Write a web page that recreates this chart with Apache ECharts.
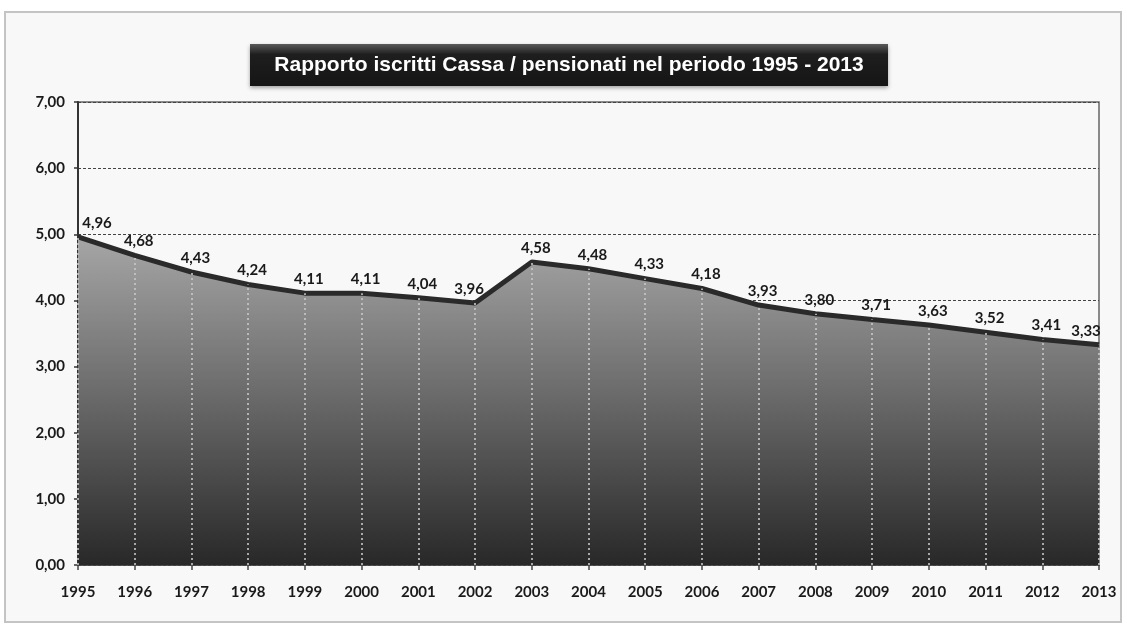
<!DOCTYPE html>
<html>
<head>
<meta charset="utf-8">
<script src="https://cdn.jsdelivr.net/npm/echarts@6/dist/echarts.min.js"></script>
<style>
html,body{margin:0;padding:0;background:#ffffff;}
#main{width:1127px;height:631px;}
</style>
</head>
<body>
<div id="main"></div>
<script>
var titleText = 'Rapporto iscritti Cassa / pensionati nel periodo 1995 - 2013';
var categories = ['1995','1996','1997','1998','1999','2000','2001','2002','2003','2004','2005','2006','2007','2008','2009','2010','2011','2012','2013'];
var ratios = [4.96,4.68,4.43,4.24,4.11,4.11,4.04,3.96,4.58,4.48,4.33,4.18,3.93,3.80,3.71,3.63,3.52,3.41,3.33];
var yTicks = [0,1,2,3,4,5,6,7];

function fmt(v){ return Number(v).toFixed(2).replace('.', ','); }

var chart = echarts.init(document.getElementById('main'), null, {renderer:'canvas'});
var lastIdx = ratios.length - 1;
var seriesData = ratios.map(function(v, i){
  var item = {value: v};
  var dx = 4;
  if (i === 0) dx = 19;
  else if (i === lastIdx) dx = -13;
  else if (i < lastIdx && ratios[i + 1] > v + 0.2) dx = -6;
  item.label = {offset:[dx, 0]};
  return item;
});
var dropLines = ratios.map(function(v, i){
  return [{coord:[categories[i], 0]}, {coord:[categories[i], v]}];
});

var font = "Lato, 'Liberation Sans', sans-serif";
chart.setOption({
  backgroundColor: '#ffffff',
  animation: false,
  graphic: [
    {type:'rect', z:-10, shape:{x:5, y:12, width:1116, height:610},
     style:{fill:'#f8f8f8', stroke:'#c4c4c4', lineWidth:2}},
    {type:'rect', z:10, shape:{x:250, y:44, width:638, height:42},
     style:{fill:new echarts.graphic.LinearGradient(0,0,0,1,[
        {offset:0,color:'#5a5a5a'},{offset:0.25,color:'#1e1e1e'},{offset:1,color:'#151515'}]),
        shadowBlur:4, shadowColor:'rgba(0,0,0,0.35)', shadowOffsetY:2}},
    {type:'text', z:11, x:569, y:65,
     style:{text:titleText, fill:'#ffffff', font:"bold 21px 'Liberation Sans Narrow', 'Liberation Sans', Arial, sans-serif",
        textAlign:'center', textVerticalAlign:'middle'}}
  ],
  grid: {left:78, right:28, top:102, bottom:66, show:true, borderColor:'#666666', borderWidth:1.5, backgroundColor:'transparent'},
  xAxis: {
    type:'category', data:categories, boundaryGap:false,
    axisLine:{show:true, lineStyle:{color:'#444', width:1.5}},
    axisTick:{show:true, alignWithLabel:true, length:5, lineStyle:{color:'#444', width:1.5}},
    axisLabel:{color:'#1a1a1a', fontFamily:font, fontWeight:'bold', fontSize:15, margin:20},
    splitLine:{show:false}
  },
  yAxis: {
    type:'value', min:yTicks[0], max:yTicks[yTicks.length-1], interval:1,
    axisLine:{show:true, lineStyle:{color:'#333', width:2}},
    axisTick:{show:true, length:4, lineStyle:{color:'#333', width:1.5}},
    axisLabel:{color:'#1a1a1a', fontFamily:font, fontWeight:'bold', fontSize:15, margin:13, formatter:function(v){return fmt(v);}},
    splitLine:{show:true, lineStyle:{color:'#444', width:1, type:[3,2]}}
  },
  series: [{
    type:'line', data:seriesData, symbol:'circle', symbolSize:1, showSymbol:true,
    itemStyle:{color:'rgba(0,0,0,0)'},
    lineStyle:{color:'#2a2a2a', width:5},
    areaStyle:{opacity:1, color:new echarts.graphic.LinearGradient(0,0,0,1,[
      {offset:0,color:'#a6a6a6'},{offset:0.5,color:'#686868'},{offset:1,color:'#282828'}])},
    label:{show:true, position:'top', distance:6, color:'#1a1a1a', fontFamily:font, fontWeight:'bold', fontSize:15,
      formatter:function(p){return fmt(p.value);}},
    markLine:{silent:true, symbol:'none', label:{show:false},
      lineStyle:{color:'#c8c8c8', width:2, type:[2,3], opacity:0.8},
      data:dropLines}
  }]
});
</script>
</body>
</html>
